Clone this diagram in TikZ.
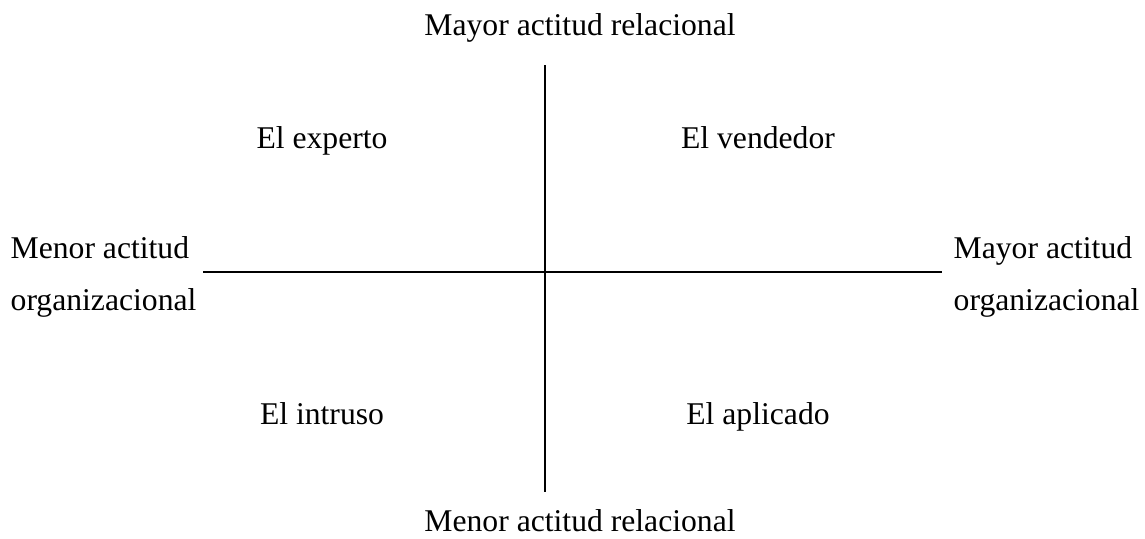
\documentclass[tikz,border=0pt]{standalone}
\usepackage{fontspec}
\setmainfont{Liberation Serif}
\usetikzlibrary{positioning}

\begin{document}
\begin{tikzpicture}[
    x=0.01cm, y=-0.01cm,
    every node/.style={font=\fontsize{9}{15}\selectfont, inner sep=0pt},
    axis/.style={line width=0.6pt, black},
    quad/.style={anchor=base},
    pole/.style={align=left, anchor=west}
]
\useasboundingbox (0,0) rectangle (1145,538);

% ejes
\coordinate (top) at (545,65);
\coordinate (bottom) at (545,492);
\coordinate (left) at (203,272);
\coordinate (right) at (942,272);
\draw[axis] (top) -- (bottom);
\draw[axis] (left) -- (right);

% extremos
\node (toplbl) at (580,28) {Mayor actitud relacional};
\node (botlbl) at (580,521) {Menor actitud relacional};
\node[pole] (leftlbl) at (10,277) {Menor actitud\\organizacional};
\node[pole] (rightlbl) at (953,277) {Mayor actitud\\organizacional};

% cuadrantes
\node[quad] (experto) at (322,148) {El experto};
\node[quad] (vendedor) at (758,148) {El vendedor};
\node[quad] (intruso) at (322,424) {El intruso};
\node[quad] (aplicado) at (758,424) {El aplicado};

\end{tikzpicture}
\end{document}
